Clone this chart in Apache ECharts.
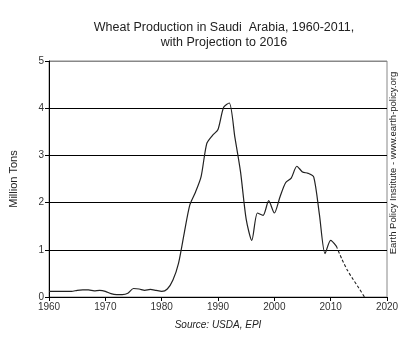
<!DOCTYPE html>
<html><head><meta charset="utf-8">
<script src="https://cdn.jsdelivr.net/npm/echarts@6/dist/echarts.min.js"></script>
<style>html,body{margin:0;padding:0;background:#fff}#c{width:405px;height:342px}</style>
</head><body><div id="c"></div>
<script>
var years = [1960,1961,1962,1963,1964,1965,1966,1967,1968,1969,1970,1971,1972,1973,1974,1975,1976,1977,1978,1979,1980,1981,1982,1983,1984,1985,1986,1987,1988,1989,1990,1991,1992,1993,1994,1995,1996,1997,1998,1999,2000,2001,2002,2003,2004,2005,2006,2007,2008,2009,2010,2011];
var production = [0.12,0.12,0.12,0.12,0.12,0.14,0.15,0.15,0.13,0.14,0.12,0.07,0.05,0.05,0.08,0.18,0.17,0.14,0.16,0.14,0.12,0.17,0.36,0.72,1.35,1.95,2.22,2.55,3.25,3.42,3.55,4.02,4.11,3.38,2.65,1.65,1.2,1.78,1.73,2.04,1.78,2.12,2.42,2.52,2.77,2.65,2.62,2.54,1.75,0.92,1.2,1.08];
var projYears = [2011,2012,2013,2014,2015,2016];
var projection = [1.08,0.8,0.56,0.37,0.19,0.0];
var yTicks = [0,1,2,3,4,5];
var xTicks = [1960,1970,1980,1990,2000,2010,2020];

var chart = echarts.init(document.getElementById('c'), null, {renderer:'canvas'});
var font = 'Liberation Sans, Arial, sans-serif';
chart.setOption({
  animation: false,
  backgroundColor: '#fff',
  title: {
    text: 'Wheat Production in Saudi  Arabia, 1960-2011,\nwith Projection to 2016',
    left: 219, top: 15, textAlign: 'center',
    textStyle: {fontFamily: font, fontSize: 12.5, fontWeight: 'normal', color: '#222', lineHeight: 15}
  },
  grid: {left: 47, right: 18, top: 61, bottom: 45, show: true, borderColor: '#888', borderWidth: 1, backgroundColor: 'transparent'},
  xAxis: {
    type: 'value', min: xTicks[0], max: xTicks[xTicks.length-1], interval: 10,
    axisLine: {onZero: false, lineStyle: {color: '#000', width: 1}},
    axisTick: {show: true, length: 4, lineStyle: {color: '#000'}},
    axisLabel: {fontFamily: font, fontSize: 10, color: '#333', margin: 5, formatter: function(v){return String(v);}},
    splitLine: {show: false}
  },
  yAxis: {
    type: 'value', min: yTicks[0], max: yTicks[yTicks.length-1], interval: 1,
    name: 'Million Tons', nameLocation: 'middle', nameGap: 30, nameRotate: 90,
    nameTextStyle: {fontFamily: font, fontSize: 11, color: '#222'},
    axisLine: {show: true, lineStyle: {color: '#000', width: 1}},
    axisTick: {show: true, length: 4, lineStyle: {color: '#000'}},
    axisLabel: {fontFamily: font, fontSize: 10, color: '#333', margin: 5},
    splitLine: {show: true, lineStyle: {color: ['#000','#000','#000','#000','#000','#888'], width: 1}}
  },
  series: [
    {type: 'line', data: years.map(function(y,i){return [y, production[i]];}), showSymbol: false, smooth: 0.25,
     lineStyle: {color: '#222', width: 1.2}, z: 5},
    {type: 'line', data: projYears.map(function(y,i){return [y, projection[i]];}), showSymbol: false, smooth: 0.2,
     lineStyle: {color: '#222', width: 1.1, type: [3,2]}, z: 5}
  ],
  graphic: [
    {type: 'text', x: 218, y: 325, style: {text: 'Source: USDA, EPI', font: 'italic 10px ' + font, fill: '#222', textAlign: 'center', textVerticalAlign: 'middle'}},
    {type: 'text', x: 393, y: 163, rotation: Math.PI/2, style: {text: 'Earth Policy Institute - www.earth-policy.org', font: '9.5px ' + font, fill: '#222', textAlign: 'center', textVerticalAlign: 'middle'}}
  ]
});
</script></body></html>
